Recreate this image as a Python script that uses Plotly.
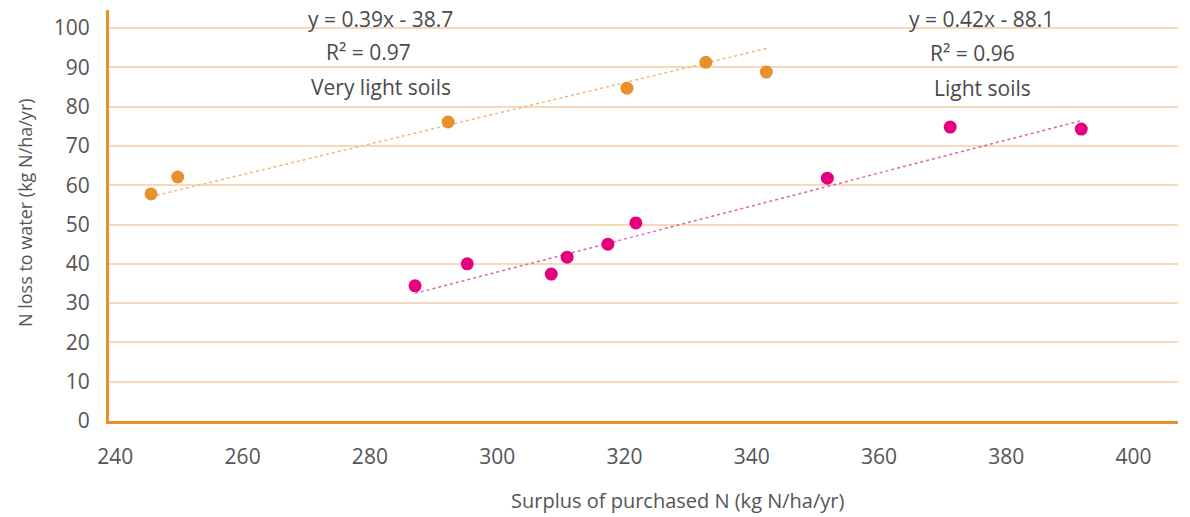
import plotly.graph_objects as go

# Very light soils
vl_x = [245.6, 249.8, 292.3, 320.4, 332.8, 342.3]
vl_y = [57.8, 62.1, 76.1, 84.7, 91.3, 88.8]

# Light soils
l_x = [287.1, 295.3, 308.5, 311.0, 317.4, 321.8, 351.9, 371.2, 391.8]
l_y = [34.4, 40.0, 37.4, 41.7, 45.0, 50.4, 61.8, 74.8, 74.3]

# Linear trend coefficients (slope, intercept)
vl_fit = (0.39, -38.7)
l_fit = (0.42, -88.1)

x_ticks = [240, 260, 280, 300, 320, 340, 360, 380, 400]
y_ticks = [0, 10, 20, 30, 40, 50, 60, 70, 80, 90, 100]

ORANGE = "#E8902C"
MAGENTA = "#E5007E"
FONT = "Open Sans"
TXT = "#555555"

W, H = 1190, 517
L, R, T, B = 109, 12, 10, 96
pw, ph = W - L - R, H - T - B


def px_x(px):
    return (px - L) / pw


def px_y(py):
    return (H - B - py) / ph


def trend(xs, fit):
    x0, x1 = min(xs), max(xs)
    return [x0, x1], [fit[0] * x0 + fit[1], fit[0] * x1 + fit[1]]


fig = go.Figure()

tx, ty = trend(vl_x, vl_fit)
fig.add_trace(go.Scatter(x=tx, y=ty, mode="lines",
                         line=dict(color="#F2B57A", width=1.5, dash="dot"),
                         hoverinfo="skip", showlegend=False))
tx, ty = trend(l_x, l_fit)
fig.add_trace(go.Scatter(x=tx, y=ty, mode="lines",
                         line=dict(color="#E860A8", width=1.5, dash="dot"),
                         hoverinfo="skip", showlegend=False))

fig.add_trace(go.Scatter(x=vl_x, y=vl_y, mode="markers", name="Very light soils",
                         marker=dict(color=ORANGE, size=13), showlegend=False))
fig.add_trace(go.Scatter(x=l_x, y=l_y, mode="markers", name="Light soils",
                         marker=dict(color=MAGENTA, size=13), showlegend=False))

notes = [
    ("y = 0.39x - 38.7", 380, 19),
    ("R² = 0.97", 368, 52),
    ("Very light soils", 381, 87),
    ("y = 0.42x - 88.1", 981, 19),
    ("R² = 0.96", 972, 53),
    ("Light soils", 982, 88),
]
for text, px, py in notes:
    fig.add_annotation(text=text, x=px_x(px), y=px_y(py), xref="paper", yref="paper",
                       showarrow=False, xanchor="center", yanchor="middle",
                       font=dict(family=FONT, size=21, color="#4a4a4a"))

fig.add_annotation(text="Surplus of purchased N (kg N/ha/yr)", x=px_x(678), y=px_y(500),
                   xref="paper", yref="paper", showarrow=False,
                   xanchor="center", yanchor="middle",
                   font=dict(family=FONT, size=20, color=TXT))
fig.add_annotation(text="N loss to water (kg N/ha/yr)", x=px_x(25), y=px_y(213),
                   xref="paper", yref="paper", showarrow=False, textangle=-90,
                   xanchor="center", yanchor="middle",
                   font=dict(family=FONT, size=18, color=TXT))

fig.update_layout(
    width=W, height=H,
    margin=dict(l=L, r=R, t=T, b=B),
    paper_bgcolor="white", plot_bgcolor="white",
    font=dict(family=FONT, color=TXT),
    xaxis=dict(range=[239.0, 407.0], tickvals=x_ticks, showgrid=False, zeroline=False,
               showline=True, linecolor=ORANGE, linewidth=3,
               ticks="outside", ticklen=15, tickcolor="rgba(0,0,0,0)",
               tickfont=dict(family=FONT, size=21, color=TXT)),
    yaxis=dict(range=[0, 104.6], tickvals=y_ticks, showgrid=True,
               gridcolor="#F5D9BC", gridwidth=1.5, zeroline=False,
               showline=True, linecolor=ORANGE, linewidth=3,
               ticks="outside", ticklen=12, tickcolor="rgba(0,0,0,0)",
               tickfont=dict(family=FONT, size=21, color=TXT)),
)

fig.write_html("out.html")
